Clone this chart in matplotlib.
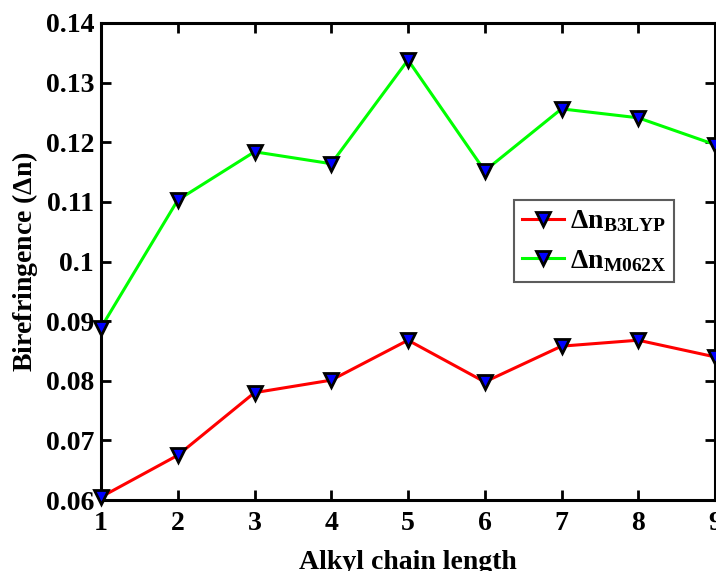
import matplotlib
matplotlib.use("Agg")
import matplotlib.pyplot as plt

chain_length = [1, 2, 3, 4, 5, 6, 7, 8, 9]
dn_b3lyp = [0.0605, 0.0675, 0.0780, 0.0801, 0.0868, 0.0798, 0.0858, 0.0868, 0.0840]
dn_m062x = [0.0889, 0.1103, 0.1184, 0.1164, 0.1338, 0.1152, 0.1256, 0.1241, 0.1196]
y_ticks = [0.06, 0.07, 0.08, 0.09, 0.10, 0.11, 0.12, 0.13, 0.14]
y_tick_labels = ["0.06", "0.07", "0.08", "0.09", "0.1", "0.11", "0.12", "0.13", "0.14"]

plt.rcParams["font.family"] = ["Liberation Serif", "DejaVu Serif"]
plt.rcParams["font.weight"] = "bold"
plt.rcParams["mathtext.fontset"] = "custom"
plt.rcParams["mathtext.rm"] = "Liberation Serif"
plt.rcParams["mathtext.bf"] = "Liberation Serif:bold"
plt.rcParams["mathtext.it"] = "Liberation Serif:italic"

fig = plt.figure(figsize=(7.16, 5.71), dpi=100)
ax = fig.add_axes([101 / 716, 71 / 571, 614 / 716, 477 / 571])

marker_style = dict(marker="v", markersize=10.5, markerfacecolor="#0000ff",
                    markeredgecolor="black", markeredgewidth=2.0, clip_on=False, zorder=3)
ax.plot(chain_length, dn_b3lyp, color="#ff0000", linewidth=2.2,
        label=r"$\Delta\mathbf{n}_{\mathbf{B3LYP}}$", **marker_style)
ax.plot(chain_length, dn_m062x, color="#00ff00", linewidth=2.2,
        label=r"$\Delta\mathbf{n}_{\mathbf{M062X}}$", **marker_style)

ax.set_xlim(1, 9)
ax.set_ylim(0.06, 0.14)
ax.set_xticks(chain_length)
ax.set_yticks(y_ticks)
ax.set_yticklabels(y_tick_labels)
ax.tick_params(direction="in", length=7, width=2, labelsize=20, top=True, right=True)
ax.tick_params(axis="x", pad=8)
ax.tick_params(axis="y", pad=5)
for lbl in ax.get_xticklabels() + ax.get_yticklabels():
    lbl.set_fontweight("bold")
for sp in ax.spines.values():
    sp.set_linewidth(2.2)

ax.set_xlabel("Alkyl chain length", fontsize=20, fontweight="bold", labelpad=10)
ax.set_ylabel(r"Birefringence ($\Delta$n)", fontsize=20, fontweight="bold", labelpad=4)

leg = ax.legend(loc="upper left", bbox_to_anchor=((514 - 101) / 614, (500 - 200) / 477),
                fontsize=20, frameon=True, fancybox=False, handlelength=1.5,
                handletextpad=0.2, borderpad=0.3, labelspacing=0.5, borderaxespad=0)
leg.get_frame().set_edgecolor("#333333")
leg.get_frame().set_linewidth(1.5)

fig.savefig("out.png", dpi=100)
